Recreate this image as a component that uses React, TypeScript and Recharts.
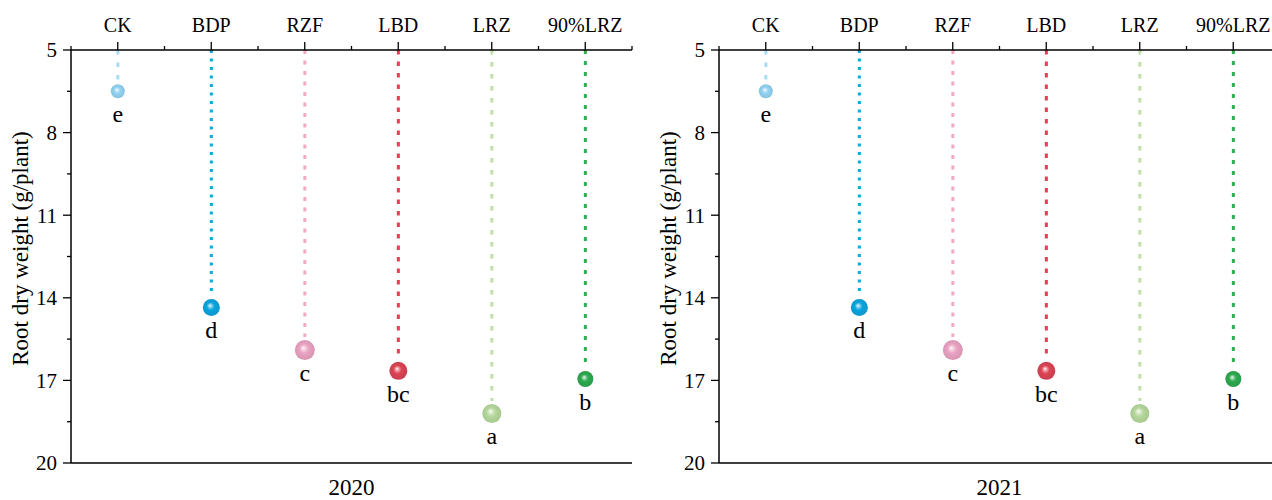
import React from "react"
import { ComposedChart, Bar, XAxis, YAxis } from "recharts"

const categories = ["CK", "BDP", "RZF", "LBD", "LRZ", "90%LRZ"]
const values2020 = [6.5, 14.35, 15.9, 16.65, 18.2, 16.95]
const values2021 = [6.5, 14.35, 15.9, 16.65, 18.2, 16.95]
const letters2020 = ["e", "d", "c", "bc", "a", "b"]
const letters2021 = ["e", "d", "c", "bc", "a", "b"]
const yMajorTicks = [5, 8, 11, 14, 17, 20]
const yAllTicks = [5, 6.5, 8, 9.5, 11, 12.5, 14, 15.5, 17, 18.5, 20]

const dotColors = ["#92d3f1", "#0ba4de", "#eaa3c3", "#dc4455", "#b5d89c", "#2da94e"]
const lineColors = ["#a6dcf3", "#12a6e0", "#f0a9c6", "#df4252", "#bfdea8", "#2fae52"]
const lineDash = ["4.5 8", "3 5.5", "4 6.5", "4.5 7", "4.5 7.5", "4 7"]
const dotRadius = [7, 8.5, 10, 9, 9.5, 8]

const FONT = '"Liberation Serif", "Times New Roman", serif'
const W = 650
const H = 500
const MARGIN = { top: 0, right: 18, bottom: 0, left: 9 }
const Y_W = 62
const TOP_H = 50
const BOTTOM_H = 37
const step = (W - MARGIN.left - MARGIN.right - Y_W) / categories.length

function lighten(hex: string, t: number) {
  const n = parseInt(hex.slice(1), 16)
  const r = (n >> 16) & 255, g = (n >> 8) & 255, b = n & 255
  const f = (c: number) => Math.round(c + (255 - c) * t)
  return `rgb(${f(r)},${f(g)},${f(b)})`
}
function darken(hex: string, t: number) {
  const n = parseInt(hex.slice(1), 16)
  const r = (n >> 16) & 255, g = (n >> 8) & 255, b = n & 255
  const f = (c: number) => Math.round(c * (1 - t))
  return `rgb(${f(r)},${f(g)},${f(b)})`
}

function Panel({ year, values, letters, pid }: { year: string; values: number[]; letters: string[]; pid: string }) {
  const data = categories.map((c, i) => ({ cat: c, v: values[i], letter: letters[i] }))

  // top axis: category ticks + minor ticks at band edges
  const TopTick = (p: any) => {
    const { x, y, payload, index } = p
    const axisY = y + 8 + 10
    return (
      <g>
        <line x1={x} x2={x} y1={axisY - 8} y2={axisY} stroke="#000" strokeWidth={1.3} />
        <line x1={x - step / 2} x2={x - step / 2} y1={axisY - 4} y2={axisY} stroke="#000" strokeWidth={1.3} />
        {index === categories.length - 1 && (
          <line x1={x + step / 2} x2={x + step / 2} y1={axisY - 4} y2={axisY} stroke="#000" strokeWidth={1.3} />
        )}
        <text x={x} y={y} textAnchor="middle" fontSize={20} fontFamily={FONT} fill="#000">{payload.value}</text>
      </g>
    )
  }

  const LeftTick = (p: any) => {
    const { x, y, payload } = p
    const axisX = x + 8 + 6
    const major = yMajorTicks.includes(payload.value)
    return (
      <g>
        <line x1={axisX - (major ? 8 : 4)} x2={axisX} y1={y} y2={y} stroke="#000" strokeWidth={1.3} />
        {major && (
          <text x={x} y={y} dy="0.35em" textAnchor="end" fontSize={21} fontFamily={FONT} fill="#000">{payload.value}</text>
        )}
      </g>
    )
  }

  const YTitle = (p: any) => {
    const { y, height } = p.viewBox
    const cx = MARGIN.left + 11
    const cy = y + height / 2 - 8
    return (
      <text x={cx} y={cy} transform={`rotate(-90 ${cx} ${cy})`} textAnchor="middle" dy="0.35em" fontSize={23} fontFamily={FONT} fill="#000">
        Root dry weight (g/plant)
      </text>
    )
  }

  const YearLabel = (p: any) => {
    const { x, y, width } = p.viewBox
    return (
      <text x={x + width / 2} y={y + 32} textAnchor="middle" fontSize={23} fontFamily={FONT} fill="#000">{year}</text>
    )
  }

  const Lollipop = (p: any) => {
    const { x, y, width, height, index, payload } = p
    const cx = x + width / 2
    const y1 = Math.min(y, y + height)
    const y2 = Math.max(y, y + height)
    const r = dotRadius[index]
    return (
      <g>
        <line x1={cx} x2={cx} y1={y1} y2={y2 - r - 3} stroke={lineColors[index]} strokeWidth={3} strokeDasharray={lineDash[index]} />
        <circle cx={cx} cy={y2} r={r} fill={`url(#${pid}-g${index})`} />
        <text x={cx} y={y2 + 31} textAnchor="middle" fontSize={24} fontFamily={FONT} fill="#000">{payload.letter}</text>
      </g>
    )
  }

  return (
    <ComposedChart width={W} height={H} data={data} margin={MARGIN}>
      <defs>
        {dotColors.map((c, i) => (
          <radialGradient key={i} id={`${pid}-g${i}`} cx="0.5" cy="0.5" r="0.5" fx="0.42" fy="0.38">
            <stop offset="0" stopColor="#ffffff" />
            <stop offset="0.14" stopColor={lighten(c, 0.6)} />
            <stop offset="0.45" stopColor={c} />
            <stop offset="1" stopColor={darken(c, 0.08)} />
          </radialGradient>
        ))}
      </defs>
      <XAxis
        xAxisId="top"
        dataKey="cat"
        orientation="top"
        height={TOP_H}
        tickSize={8}
        tickMargin={10}
        tickLine={false}
        tick={<TopTick />}
        axisLine={{ stroke: "#000", strokeWidth: 1.5 }}
        interval={0}
      />
      <XAxis
        xAxisId="bottom"
        dataKey="cat"
        orientation="bottom"
        height={BOTTOM_H}
        tick={false}
        tickLine={false}
        axisLine={{ stroke: "#000", strokeWidth: 1.5 }}
        label={<YearLabel />}
      />
      <YAxis
        yAxisId="left"
        type="number"
        domain={[5, 20]}
        reversed
        ticks={yAllTicks}
        interval={0}
        width={Y_W}
        tickSize={8}
        tickMargin={6}
        tickLine={false}
        tick={<LeftTick />}
        axisLine={{ stroke: "#000", strokeWidth: 1.5 }}
        label={<YTitle />}
      />
      <YAxis
        yAxisId="right"
        orientation="right"
        type="number"
        domain={[5, 20]}
        reversed
        width={0}
        tick={false}
        tickLine={false}
        axisLine={{ stroke: "#000", strokeWidth: 1.5 }}
      />
      <Bar xAxisId="top" yAxisId="left" dataKey="v" shape={<Lollipop />} isAnimationActive={false} />
    </ComposedChart>
  )
}

export default function App() {
  return (
    <div style={{ position: "absolute", left: 0, top: 0, width: 1272, height: 500, overflow: "hidden", background: "#fff" }}>
      <div style={{ position: "absolute", left: 0, top: 0 }}>
        <Panel year="2020" values={values2020} letters={letters2020} pid="p20" />
      </div>
      <div style={{ position: "absolute", left: 648, top: 0 }}>
        <Panel year="2021" values={values2021} letters={letters2021} pid="p21" />
      </div>
    </div>
  )
}
